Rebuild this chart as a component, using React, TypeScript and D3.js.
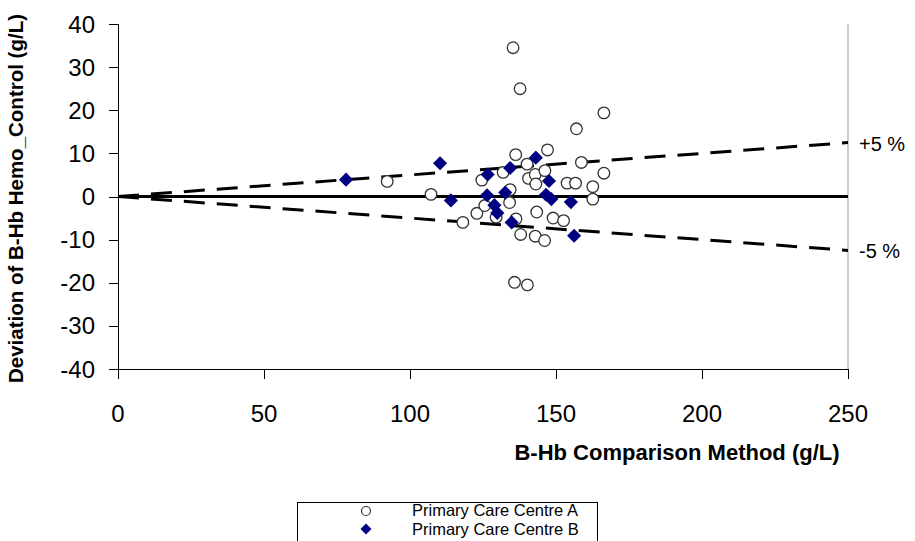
import React from "react";
import * as d3 from "d3";

// Centre A (open circles): comparison method value vs deviation
const centreAMethod = [
  92.2, 107.2, 118.1, 122.9, 124.6, 125.6, 129.5, 131.9, 134.3, 134.1, 135.3, 136.2,
  136.3, 135.8, 137.7, 137.9, 140.1, 140.6, 140.2, 142.9, 143.1, 143.4, 142.9, 146.2,
  147.1, 146.1, 149.0, 152.6, 153.8, 156.7, 157.0, 158.7, 162.6, 162.6, 166.4, 166.4,
];
const centreADeviation = [
  3.5, 0.5, -6.0, -3.9, 3.8, -2.1, -4.8, 5.6, 1.6, -1.4, 34.5, 9.7,
  -5.2, -19.9, 25.0, -8.8, 7.5, 4.2, -20.5, 5.1, 2.9, -3.6, -9.2, 6.0,
  10.8, -10.2, -5.0, -5.6, 3.1, 3.1, 15.7, 7.9, 2.3, -0.6, 5.4, 19.4,
];

// Centre B (filled diamonds)
const centreBMethod = [
  78.1, 110.3, 114.0, 126.6, 126.4, 128.9, 129.9, 132.6, 134.3, 134.8, 143.1, 147.6,
  146.6, 148.4, 155.1, 156.2,
];
const centreBDeviation = [
  3.9, 7.7, -0.9, 5.1, 0.3, -2.0, -3.8, 0.9, 6.6, -6.0, 9.0, 3.6,
  0.4, -0.6, -1.3, -9.1,
];

const xTicks = [0, 50, 100, 150, 200, 250];
const yTicks = [-40, -30, -20, -10, 0, 10, 20, 30, 40];
const limitPercents = [5, -5];
const legendLabels = ["Primary Care Centre A", "Primary Care Centre B"];

const FONT = "'Liberation Sans', Arial, sans-serif";

export default function App() {
  const width = 915;
  const height = 541;
  const margin = { top: 24, right: 67, bottom: 172, left: 118 };

  const x = d3.scaleLinear().domain([0, 250]).range([margin.left, width - margin.right]);
  const y = d3.scaleLinear().domain([-40, 40]).range([height - margin.bottom, margin.top]);

  const [x0, x1] = x.range();
  const [yBottom, yTop] = y.range();

  // square turned 45deg, same width and height
  const diamond = d3.symbol().type(d3.symbolSquare).size(100)();
  const legendDiamond = d3.symbol().type(d3.symbolSquare).size(60)();

  const limitLine = d3
    .line<[number, number]>()
    .x(d => x(d[0]))
    .y(d => y(d[1]));

  return (
    <svg
      width={width}
      height={height}
      style={{ position: "absolute", left: 0, top: 0, background: "#fff" }}
      fontFamily={FONT}
    >
      <rect width={width} height={height} fill="#fff" />

      {/* right border of plot area */}
      <line x1={x1} x2={x1} y1={yTop} y2={yBottom} stroke="#999" strokeWidth={1} />

      {/* zero line */}
      <line x1={x0} x2={x1} y1={y(0)} y2={y(0)} stroke="#000" strokeWidth={3} />

      {/* +/- 5 % limit lines */}
      {limitPercents.map(p => (
        <path
          key={p}
          d={limitLine([[0, 0], [250, (250 * p) / 100]]) || ""}
          fill="none"
          stroke="#000"
          strokeWidth={3}
          strokeDasharray="21 12"
        />
      ))}
      {limitPercents.map(p => (
        <text
          key={"l" + p}
          x={859}
          y={y((250 * p) / 100) + 8}
          fontSize={20}
          fill="#000"
        >
          {(p > 0 ? "+" : "") + p + " %"}
        </text>
      ))}

      {/* y axis */}
      <line x1={x0 + 0.5} x2={x0 + 0.5} y1={yTop} y2={yBottom} stroke="#000" />
      {yTicks.map(t => (
        <g key={t}>
          <line x1={x0 - 9} x2={x0} y1={Math.round(y(t)) + 0.5} y2={Math.round(y(t)) + 0.5} stroke="#000" />
          <text x={95} y={y(t) + 8.5} textAnchor="end" fontSize={24} fill="#000">
            {t}
          </text>
        </g>
      ))}

      {/* x axis */}
      <line x1={x0} x2={x1} y1={yBottom + 0.5} y2={yBottom + 0.5} stroke="#000" />
      {xTicks.map(t => (
        <g key={t}>
          <line x1={Math.round(x(t)) + 0.5} x2={Math.round(x(t)) + 0.5} y1={yBottom} y2={yBottom + 10} stroke="#000" />
          <text x={x(t)} y={422} textAnchor="middle" fontSize={24} fill="#000">
            {t}
          </text>
        </g>
      ))}

      {/* axis titles */}
      <text x={677} y={460} textAnchor="middle" fontSize={22} fontWeight="bold" fill="#000">
        B-Hb Comparison Method (g/L)
      </text>
      <text
        transform={`translate(23,${y(0) + 2}) rotate(-90)`}
        textAnchor="middle"
        fontSize={20.5}
        fontWeight="bold"
        fill="#000"
      >
        Deviation of B-Hb Hemo_Control (g/L)
      </text>

      {/* Centre A */}
      {centreAMethod.map((m, i) => (
        <circle
          key={"a" + i}
          cx={x(m)}
          cy={y(centreADeviation[i])}
          r={5.8}
          fill="#fff"
          stroke="#333"
          strokeWidth={1.3}
        />
      ))}

      {/* Centre B */}
      {centreBMethod.map((m, i) => (
        <path
          key={"b" + i}
          d={diamond || ""}
          transform={`translate(${x(m)},${y(centreBDeviation[i])}) rotate(45)`}
          fill="#000080"
        />
      ))}

      {/* legend */}
      <rect x={297.5} y={502.5} width={300} height={50} fill="#fff" stroke="#000" />
      <circle cx={366} cy={511} r={4.5} fill="#fff" stroke="#333" strokeWidth={1.2} />
      <path d={legendDiamond || ""} transform="translate(366,529) rotate(45)" fill="#000080" />
      {legendLabels.map((l, i) => (
        <text key={l} x={412} y={516 + i * 19} fontSize={16.5} fill="#000">
          {l}
        </text>
      ))}
    </svg>
  );
}
